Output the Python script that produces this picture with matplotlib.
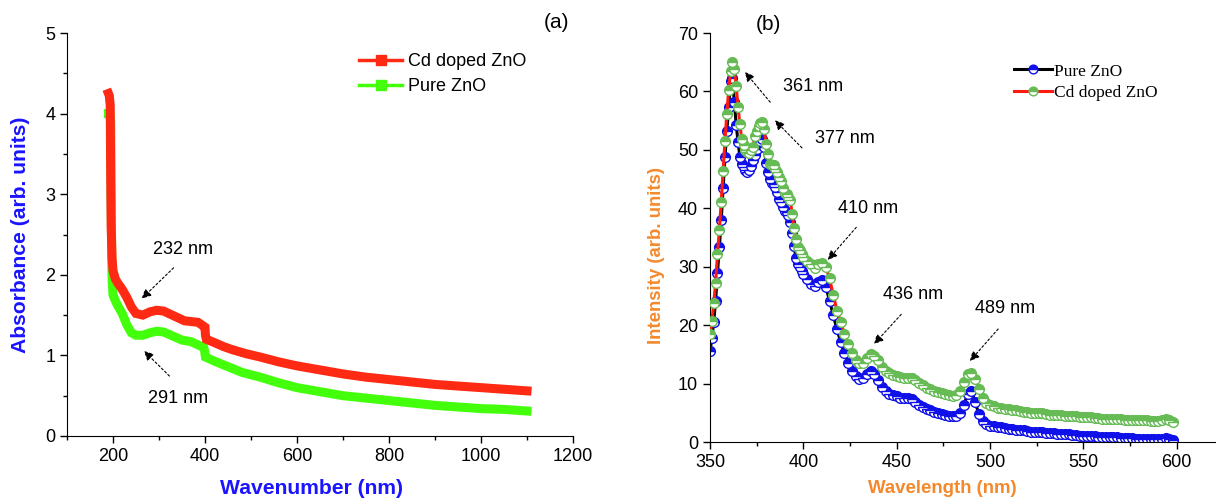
import numpy as np
import matplotlib
matplotlib.use('Agg')
from matplotlib import pyplot as plt
from matplotlib.lines import Line2D
from matplotlib.ticker import MultipleLocator

# ---------------- (a) absorbance data ----------------
abs_wl_cd = [190, 192, 194, 195, 196, 198, 200, 205, 210, 220, 230, 240, 250, 265, 280, 295,
             310, 325, 340, 355, 370, 385, 395, 400, 401, 403, 420, 440, 460, 490, 520,
             560, 600, 650, 700, 750, 800, 850, 900, 950, 1000, 1050, 1100]
abs_cd = [4.25, 4.22, 4.1, 3.2, 2.6, 2.2, 2.05, 1.95, 1.9, 1.82, 1.72, 1.6, 1.52, 1.5, 1.54, 1.56,
          1.55, 1.51, 1.47, 1.43, 1.42, 1.41, 1.37, 1.35, 1.25, 1.2, 1.16, 1.11, 1.07, 1.02, 0.98,
          0.92, 0.87, 0.82, 0.77, 0.73, 0.70, 0.67, 0.64, 0.62, 0.60, 0.58, 0.56]

abs_wl_pure = [190, 193, 195, 196, 197, 198, 200, 205, 210, 220, 230, 240, 250, 265, 280, 295,
               310, 330, 350, 370, 385, 397, 399, 401, 420, 450, 480, 520, 560, 600,
               650, 700, 750, 800, 850, 900, 950, 1000, 1050, 1100]
abs_pure = [4.0, 4.0, 3.9, 3.0, 2.3, 1.95, 1.75, 1.68, 1.62, 1.52, 1.38, 1.28, 1.25, 1.25, 1.28, 1.30,
            1.29, 1.24, 1.19, 1.17, 1.13, 1.10, 1.06, 0.98, 0.93, 0.86, 0.79, 0.73, 0.66, 0.60,
            0.55, 0.50, 0.47, 0.44, 0.41, 0.38, 0.36, 0.34, 0.33, 0.31]

# ---------------- (b) PL data ----------------
pl_wl = list(range(350, 400, 1)) + list(range(400, 600, 2))

pl_pure = [15.5, 17.8, 20.6, 24.2, 29.0, 33.3, 38.0, 43.5, 48.7, 53.2,
           57.3, 61.8, 62.3, 58.2, 54.3, 51.4, 48.8, 47.6, 47.0, 46.6,
           46.2, 46.6, 47.3, 48.2, 49.2, 50.2, 51.0, 51.6, 51.9, 50.5,
           47.8, 46.2, 45.0, 44.3, 44.1, 43.7, 42.8, 41.6, 41.0, 40.2,
           39.6, 39.4, 38.8, 37.6, 35.8, 33.6, 31.5, 30.4, 29.9, 29.3,
           # 400 - 598, step 2
           28.8, 27.9, 27.0, 26.7, 27.4, 27.8, 26.6, 24.2, 21.7, 19.3,
           17.1, 15.2, 13.6, 12.2, 11.3, 10.8, 10.9, 11.6, 12.1, 11.6,
           10.6, 9.4, 8.7, 8.3, 8.0, 7.8, 7.6, 7.5, 7.6, 7.4,
           6.9, 6.4, 6.0, 5.6, 5.4, 5.2, 5.0, 4.8, 4.7, 4.5,
           4.4, 4.5, 5.0, 6.4, 8.2, 8.8, 6.8, 4.8, 3.6, 3.0,
           2.8, 2.7, 2.6, 2.5, 2.4, 2.3, 2.2, 2.1, 2.0, 2.0,
           1.9, 1.8, 1.8, 1.7, 1.7, 1.6, 1.5, 1.5, 1.4, 1.4,
           1.3, 1.3, 1.2, 1.2, 1.1, 1.1, 1.0, 1.0, 1.0, 0.9,
           0.9, 0.9, 0.8, 0.8, 0.8, 0.7, 0.7, 0.7, 0.7, 0.6,
           0.6, 0.6, 0.6, 0.5, 0.5, 0.5, 0.6, 0.7, 0.6, 0.4]

pl_cd = [18.5, 20.7, 23.8, 27.3, 32.2, 36.3, 41.1, 46.4, 51.6, 56.2,
         60.3, 63.5, 65.0, 63.8, 61.0, 57.3, 54.4, 51.8, 50.8, 50.0,
         49.6, 49.4, 49.9, 50.5, 52.3, 53.2, 54.1, 54.6, 54.7, 53.6,
         51.0, 49.3, 47.6, 47.4, 47.4, 46.8, 46.2, 45.4, 44.6, 43.4,
         42.6, 42.4, 42.0, 41.4, 39.0, 36.6, 34.8, 33.4, 32.8, 32.2,
         # 400 - 598, step 2
         31.6, 31.0, 30.4, 29.8, 30.4, 30.7, 30.0, 28.0, 25.2, 22.5,
         20.5, 18.5, 16.8, 15.2, 14.0, 13.5, 13.6, 14.3, 15.0, 14.8,
         14.0, 12.9, 12.2, 11.8, 11.5, 11.3, 11.1, 10.9, 10.9, 11.0,
         10.6, 10.1, 9.7, 9.3, 9.0, 8.8, 8.6, 8.4, 8.2, 8.0,
         7.9, 8.0, 8.8, 10.2, 11.6, 11.8, 10.8, 9.0, 7.6, 6.7,
         6.3, 6.1, 5.9, 5.8, 5.7, 5.6, 5.5, 5.4, 5.3, 5.2,
         5.1, 5.0, 5.0, 4.9, 4.9, 4.8, 4.7, 4.7, 4.6, 4.6,
         4.5, 4.5, 4.4, 4.4, 4.3, 4.3, 4.2, 4.2, 4.1, 4.1,
         4.0, 4.0, 4.0, 3.9, 3.9, 3.9, 3.8, 3.8, 3.8, 3.7,
         3.7, 3.7, 3.7, 3.6, 3.6, 3.6, 3.8, 3.9, 3.7, 3.4]

plt.rcParams['font.family'] = ['Liberation Sans', 'DejaVu Sans']
plt.rcParams['font.size'] = 13

fig = plt.figure(figsize=(12.16, 4.98), dpi=100, facecolor='w')

red = '#ff2a14'
lime = '#44ff0c'
blue_lbl = '#1a14ff'
orange = '#f4892c'

################################
# (a) Absorbance
################################
ax = fig.add_axes([0.0551, 0.1245, 0.4161, 0.8092])
ax.plot(abs_wl_cd, abs_cd, color=red, lw=6.5, solid_joinstyle='miter', zorder=3)
ax.plot(abs_wl_pure, abs_pure, color=lime, lw=6.5, solid_joinstyle='miter', zorder=2)

ax.set_xlim(100, 1200)
ax.set_ylim(0, 5)
ax.xaxis.set_major_locator(MultipleLocator(200))
ax.xaxis.set_minor_locator(MultipleLocator(100))
ax.yaxis.set_major_locator(MultipleLocator(1))
ax.yaxis.set_minor_locator(MultipleLocator(0.5))
for s in ['top', 'right']:
    ax.spines[s].set_visible(False)
ax.tick_params(which='major', direction='out', length=5, width=1)
ax.tick_params(which='minor', direction='out', length=3, width=1)
ax.set_xticks([200, 400, 600, 800, 1000, 1200])

ax.set_xlabel('Wavenumber (nm)', color=blue_lbl, fontweight='bold', fontsize=15.2)
ax.set_ylabel('Absorbance (arb. units)', color=blue_lbl, fontweight='bold', fontsize=15.2)
ax.xaxis.set_label_coords(0.484, -0.106)
ax.yaxis.set_label_coords(-0.073, 0.5)

ax.annotate('', xy=(258, 1.68), xytext=(336, 2.11),
            arrowprops=dict(arrowstyle='-|>', linestyle=(0, (2, 2)), color='k', lw=0.8,
                            mutation_scale=14))
ax.text(287, 2.31, '232 nm', ha='left', va='center', fontsize=13)
ax.annotate('', xy=(263, 1.08), xytext=(327, 0.72),
            arrowprops=dict(arrowstyle='-|>', linestyle=(0, (2, 2)), color='k', lw=0.8,
                            mutation_scale=14))
ax.text(276, 0.47, '291 nm', ha='left', va='center', fontsize=13)

h_a = [Line2D([], [], color=red, lw=2.5, marker='s', ms=7),
       Line2D([], [], color=lime, lw=2.5, marker='s', ms=7)]
ax.legend(h_a, ['Cd doped ZnO', 'Pure ZnO'], loc='upper left', bbox_to_anchor=(0.545, 0.99),
          frameon=False, fontsize=13, handlelength=2.4, handletextpad=0.3, labelspacing=0.45)
fig.text(0.458, 0.955, '(a)', fontsize=15, ha='center', va='center')

################################
# (b) Photoluminescence
################################
bx = fig.add_axes([0.5839, 0.1124, 0.4161, 0.8213])
bx.plot(pl_wl, pl_pure, color='k', lw=2.2, marker='o', ms=7, mec='#1010e8', mfc='#1010e8',
        fillstyle='top', markerfacecoloralt='white', mew=1.0, label='Pure ZnO', zorder=2)
bx.plot(pl_wl, pl_cd, color='#ff1a10', lw=2.2, marker='o', ms=7, mec='#66bb55', mfc='#66bb55',
        fillstyle='top', markerfacecoloralt='white', mew=1.0, label='Cd doped ZnO', zorder=3)

bx.set_xlim(350, 621)
bx.set_ylim(0, 70)
bx.xaxis.set_major_locator(MultipleLocator(50))
bx.xaxis.set_minor_locator(MultipleLocator(25))
bx.yaxis.set_major_locator(MultipleLocator(10))
bx.set_xticks([350, 400, 450, 500, 550, 600])
for s in ['top', 'right']:
    bx.spines[s].set_visible(False)
bx.tick_params(which='major', direction='out', length=5, width=1)
bx.tick_params(which='minor', direction='out', length=3, width=1)

bx.set_xlabel('Wavelength (nm)', color=orange, fontweight='bold', fontsize=13.4)
bx.set_ylabel('Intensity (arb. units)', color=orange, fontweight='bold', fontsize=13.4)
bx.xaxis.set_label_coords(0.46, -0.094)
bx.yaxis.set_label_coords(-0.089, 0.455)

peaks = [('361 nm', (389, 60.9), (383.2, 57.8), (367.7, 63.7)),
         ('377 nm', (406, 52.0), (400.3, 50.0), (383.7, 55.4)),
         ('410 nm', (418.6, 40.0), (429.3, 37.1), (412.1, 30.8)),
         ('436 nm', (442.7, 25.3), (453.4, 22.2), (436.8, 16.4)),
         ('489 nm', (492.0, 22.8), (505.3, 19.7), (488.2, 13.5))]
for lbl, tpos, tail, head in peaks:
    bx.annotate('', xy=head, xytext=tail,
                arrowprops=dict(arrowstyle='-|>', linestyle=(0, (2, 2)), color='k', lw=0.8,
                                mutation_scale=14))
    bx.text(tpos[0], tpos[1], lbl, ha='left', va='center', fontsize=13)

bx.legend(loc='upper left', bbox_to_anchor=(0.57, 0.964), frameon=False,
          prop={'family': 'Liberation Serif', 'size': 12.5}, handlelength=2.2,
          handletextpad=0.1, labelspacing=0.3, markerscale=0.9)
fig.text(0.632, 0.95, '(b)', fontsize=15, ha='center', va='center')

fig.savefig('out.png', dpi=100)
